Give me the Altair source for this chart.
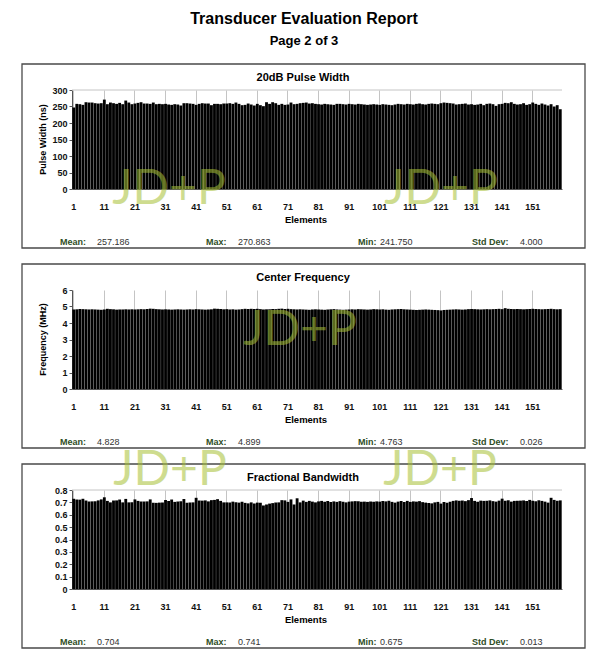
import altair as alt
import pandas as pd

# ---------------- data ----------------
elements = list(range(1, 161))

pulse_width = [
    247, 258, 257, 255, 263, 262, 262, 260, 259, 260,
    270.9, 257, 262, 260, 258, 261, 257, 268, 262, 257,
    259, 261, 263, 259, 259, 258, 262, 257, 258, 257,
    258, 256, 255, 257, 256, 253, 260, 260, 259, 258,
    255, 258, 260, 259, 259, 254, 258, 258, 257, 259,
    259, 260, 258, 262, 258, 254, 255, 259, 256, 253,
    258, 254, 251, 263, 258, 263, 260, 255, 258, 255,
    256, 262, 257, 258, 260, 261, 262, 259, 260, 258,
    257, 256, 258, 257, 256, 255, 258, 258, 257, 256,
    258, 257, 256, 258, 257, 256, 255, 256, 257, 256,
    255, 257, 256, 255, 254, 256, 258, 257, 256, 258,
    257, 256, 258, 259, 257, 256, 258, 259, 258, 257,
    260, 262, 261, 260, 259, 256, 257, 258, 259, 256,
    257, 255, 256, 258, 254, 258, 259, 257, 252, 257,
    258, 261, 260, 263, 258, 256, 257, 260, 255, 257,
    262, 258, 255, 259, 256, 253, 257, 250, 254, 241.75,
]

center_freq = [
    4.82, 4.83, 4.85, 4.84, 4.83, 4.82, 4.83, 4.82, 4.81, 4.80,
    4.82, 4.86, 4.84, 4.83, 4.81, 4.82, 4.82, 4.83, 4.82, 4.83,
    4.82, 4.83, 4.84, 4.83, 4.85, 4.87, 4.86, 4.84, 4.83, 4.82,
    4.83, 4.82, 4.81, 4.82, 4.83, 4.82, 4.81, 4.82, 4.83, 4.82,
    4.84, 4.83, 4.82, 4.81, 4.82, 4.83, 4.87, 4.86, 4.85, 4.83,
    4.84, 4.82, 4.83, 4.81, 4.82, 4.84, 4.86, 4.85, 4.86, 4.85,
    4.86, 4.84, 4.82, 4.83, 4.83, 4.85, 4.84, 4.86, 4.87, 4.85,
    4.86, 4.84, 4.83, 4.82, 4.83, 4.82, 4.81, 4.80, 4.82, 4.83,
    4.82, 4.81, 4.80, 4.82, 4.83, 4.84, 4.82, 4.81, 4.80, 4.81,
    4.82, 4.83, 4.82, 4.84, 4.83, 4.82, 4.81, 4.82, 4.84, 4.83,
    4.82, 4.83, 4.81, 4.80, 4.82, 4.83, 4.84, 4.85, 4.83, 4.82,
    4.81, 4.80, 4.79, 4.80, 4.81, 4.82, 4.81, 4.80, 4.79, 4.78,
    4.763, 4.79, 4.80, 4.81, 4.82, 4.83, 4.82, 4.81, 4.82, 4.84,
    4.85, 4.84, 4.83, 4.82, 4.83, 4.84, 4.83, 4.84, 4.85, 4.86,
    4.84, 4.899, 4.86, 4.85, 4.84, 4.85, 4.84, 4.83, 4.84, 4.85,
    4.86, 4.85, 4.84, 4.83, 4.84, 4.85, 4.86, 4.84, 4.83, 4.84,
]

frac_bw = [
    0.729, 0.723, 0.722, 0.729, 0.715, 0.707, 0.708, 0.709, 0.716, 0.724,
    0.741, 0.712, 0.700, 0.715, 0.716, 0.723, 0.700, 0.728, 0.700, 0.701,
    0.724, 0.712, 0.707, 0.707, 0.708, 0.724, 0.697, 0.696, 0.698, 0.699,
    0.719, 0.711, 0.723, 0.704, 0.707, 0.709, 0.727, 0.697, 0.699, 0.700,
    0.737, 0.715, 0.714, 0.716, 0.708, 0.718, 0.720, 0.726, 0.712, 0.700,
    0.700, 0.699, 0.706, 0.701, 0.698, 0.705, 0.696, 0.692, 0.700, 0.691,
    0.698, 0.697, 0.675, 0.683, 0.690, 0.694, 0.699, 0.700, 0.718, 0.716,
    0.704, 0.724, 0.683, 0.733, 0.700, 0.714, 0.704, 0.712, 0.706, 0.700,
    0.708, 0.712, 0.705, 0.711, 0.703, 0.708, 0.704, 0.710, 0.705, 0.700,
    0.706, 0.708, 0.710, 0.709, 0.705, 0.706, 0.704, 0.707, 0.705, 0.708,
    0.706, 0.711, 0.708, 0.713, 0.704, 0.698, 0.706, 0.711, 0.703, 0.712,
    0.704, 0.708, 0.706, 0.710, 0.702, 0.698, 0.695, 0.692, 0.700, 0.704,
    0.690, 0.703, 0.697, 0.705, 0.712, 0.716, 0.713, 0.715, 0.710, 0.718,
    0.735, 0.712, 0.705, 0.714, 0.712, 0.713, 0.716, 0.710, 0.706, 0.714,
    0.730, 0.713, 0.717, 0.706, 0.712, 0.713, 0.714, 0.716, 0.711, 0.720,
    0.713, 0.709, 0.717, 0.712, 0.706, 0.698, 0.737, 0.720, 0.713, 0.716,
]

x_ticks = [1, 11, 21, 31, 41, 51, 61, 71, 81, 91, 101, 111, 121, 131, 141, 151]
pw_ticks = [0, 50, 100, 150, 200, 250, 300]
cf_ticks = [0, 1, 2, 3, 4, 5, 6]
bw_ticks = [0, 0.1, 0.2, 0.3, 0.4, 0.5, 0.6, 0.7, 0.8]

stat_labels = ["Mean:", "Max:", "Min:", "Std Dev:"]
pw_stats = ["257.186", "270.863", "241.750", "4.000"]
cf_stats = ["4.828", "4.899", "4.763", "0.026"]
bw_stats = ["0.704", "0.741", "0.675", "0.013"]

report_title = "Transducer Evaluation Report"
report_page = "Page 2 of 3"
panel_titles = ["20dB Pulse Width", "Center Frequency", "Fractional Bandwidth"]
y_titles = ["Pulse Width (ns)", "Frequency (MHz)", ""]
x_title = "Elements"
watermark = "JD+P"

# ---------------- layout ----------------
W, H = 490, 99
FONT = "Liberation Sans"
one = pd.DataFrame({"k": [0]})
STAT_LABEL_X = [-12, 134, 286, 400]
STAT_VALUE_X = [25, 166, 308, 448]


def txt(x, y, text, size=9, weight="bold", color="#000000", align="center",
        baseline="middle", angle=None, font=FONT, opacity=1.0):
    kw = dict(fontSize=size, fontWeight=weight, color=color, align=align,
              baseline=baseline, font=font, opacity=opacity)
    if angle is not None:
        kw["angle"] = angle
    return alt.Chart(one).mark_text(**kw).encode(
        x=alt.value(x), y=alt.value(y), text=alt.value(text))


def panel(values, ticks, ymax, title, ytitle, stats, wm_pos, top_rule,
          label_expr=None, extra=None):
    df = pd.DataFrame({"Element": elements, "Value": values})
    yaxis_kw = dict(values=ticks, grid=False, tickSize=3, tickColor="#555555",
                    domainColor="#555555", labelFontSize=9,
                    labelFontWeight="bold", labelPadding=2, labelFont=FONT,
                    labelColor="#111111", labelOverlap=False, labelFlush=False,
                    title=None)
    if label_expr:
        yaxis_kw["labelExpr"] = label_expr
    yaxis = alt.Axis(**yaxis_kw)
    yscale = alt.Scale(domain=[0, ymax], nice=False)
    bars = alt.Chart(df).mark_bar(color="#000000").encode(
        x=alt.X("Element:O",
                scale=alt.Scale(paddingInner=0.07, paddingOuter=0.1),
                axis=alt.Axis(values=x_ticks, labelAngle=0, ticks=False,
                              grid=True, gridColor="#c4c4c4", gridWidth=1,
                              domainColor="#555555", labelFontSize=9,
                              labelFontWeight="bold", labelPadding=13,
                              labelFont=FONT, labelColor="#111111",
                              labelOverlap=False),
                title=None),
        y=alt.Y("Value:Q", scale=yscale, axis=yaxis, title=None),
    )
    layers = []
    box = alt.Chart(one).mark_rect(fillOpacity=0, stroke="#4a4a4a",
                                   strokeWidth=1.3).encode(
        x=alt.value(-50), x2=alt.value(513), y=alt.value(-26), y2=alt.value(158))
    layers.append(box)
    if top_rule:
        layers.append(alt.Chart(one).mark_rule(color="#c4c4c4").encode(
            y=alt.Y(datum=ymax, scale=yscale, axis=yaxis)))
    layers.append(bars)
    layers.append(txt(231, -12, title, size=11))
    if ytitle:
        layers.append(txt(-29, H / 2, ytitle, size=9, angle=270))
    layers.append(txt(234, 130, x_title, size=9.5))
    for i in range(4):
        layers.append(txt(STAT_LABEL_X[i], 152, stat_labels[i], size=9,
                          color="#2f4d25", align="left"))
        layers.append(txt(STAT_VALUE_X[i], 152, stats[i], size=9,
                          weight="normal", color="#333333", align="left"))
    if extra:
        layers.extend(extra)
    for (wx, wy) in wm_pos:
        layers.append(txt(wx, wy, watermark, size=48, weight="normal",
                          color="#a7c135", font="Lato", opacity=0.55))
    return alt.layer(*layers).properties(width=W, height=H)


anchor = alt.Chart(one).mark_rect(opacity=0).encode(
    x=alt.value(-64), x2=alt.value(-63), y=alt.value(-82), y2=alt.value(-81))
page_titles = [
    anchor,
    txt(232, -71, report_title, size=16),
    txt(232, -49, report_page, size=13),
]

p1 = panel(pulse_width, pw_ticks, 300, panel_titles[0], y_titles[0], pw_stats,
           [(97, 100), (369, 100)], True, extra=page_titles)
p2 = panel(center_freq, cf_ticks, 6, panel_titles[1], y_titles[1], cf_stats,
           [(228, 41)], False)
p3 = panel(frac_bw, bw_ticks, 0.8, panel_titles[2], y_titles[2], bw_stats,
           [(98, -19), (368, -19)], True,
           label_expr="datum.value == 0 ? '0' : format(datum.value, '.1f')")

chart = alt.vconcat(p1, p2, p3, spacing=101, bounds="flush").properties(
    padding=0
).configure(font=FONT).configure_view(strokeWidth=0)

chart.save("out.html", embed_options={"renderer": "svg", "actions": False})
